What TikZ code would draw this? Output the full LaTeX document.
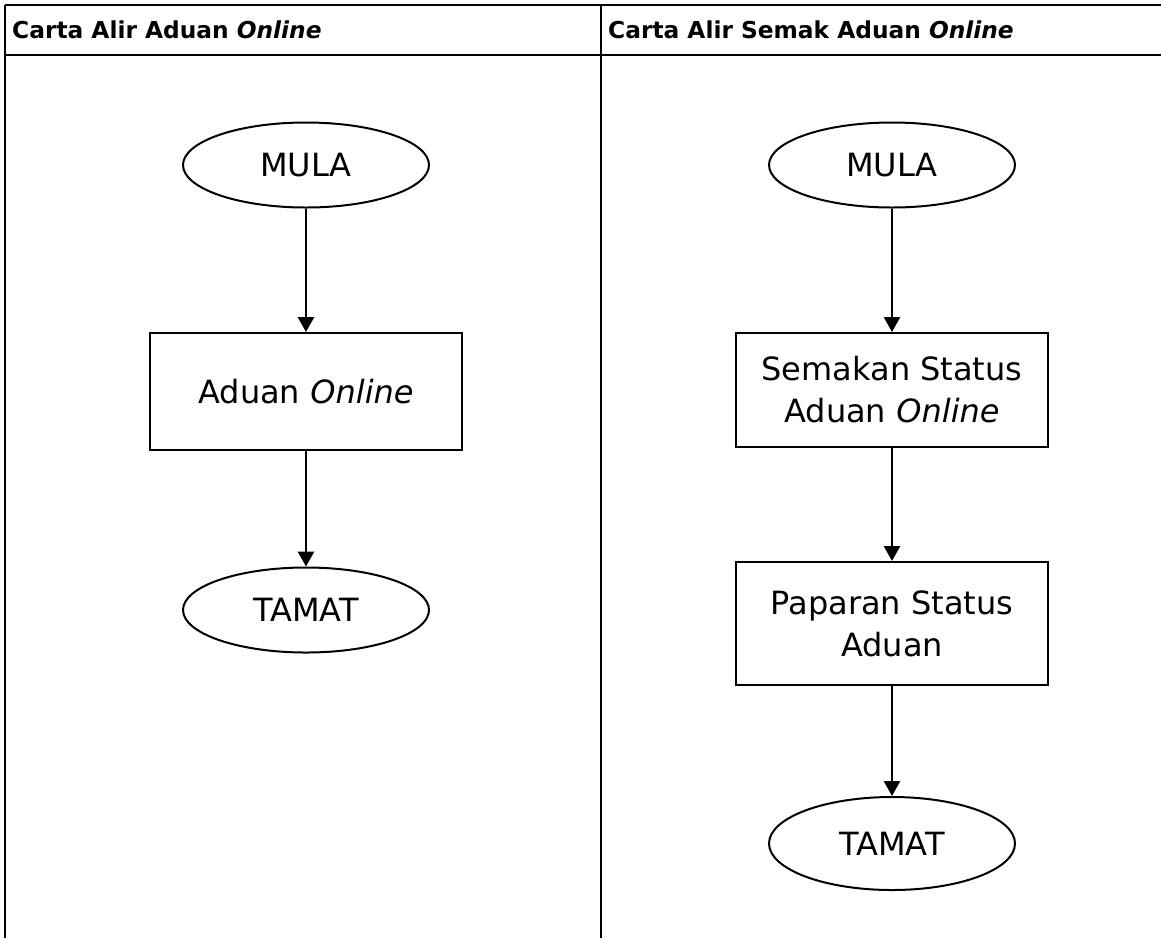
\documentclass[tikz,border=0pt]{standalone}
\usepackage{fontspec}
\setmainfont{DejaVu Sans}
\usepackage{tikz}
\usetikzlibrary{arrows.meta, shapes.geometric}

\tikzset{
  startstop/.style={ellipse, draw, line width=2pt, minimum width=246pt, minimum height=85pt, inner sep=0pt, font=\fontsize{32}{40}\selectfont},
  process/.style={rectangle, draw, line width=2pt, minimum width=312pt, inner sep=0pt, align=center, font=\fontsize{32}{42}\selectfont},
  flow/.style={-{Triangle[length=15pt,width=16pt]}, line width=2.8pt},
  grid/.style={line width=2pt},
  header/.style={anchor=west, inner sep=0pt, font=\fontsize{23.3}{26}\selectfont\bfseries}
}

\begin{document}
\begin{tikzpicture}[x=1pt, y=-1pt]
        \useasboundingbox (0,0) rectangle (1161,938);

        % tabel
        \draw[grid] (5,5) -- (1161,5);
        \draw[grid] (5,55) -- (1161,55);
        \draw[grid] (5,5) -- (5,938);
        \draw[grid] (601,5) -- (601,938);
        \node[header] (hdrA) at (12,30) {Carta Alir Aduan \textit{Online}};
        \node[header] (hdrB) at (608,30) {Carta Alir Semak Aduan \textit{Online}};

        % lajur kiri
        \def\colA{306}
        \node[startstop] (mulaA) at (\colA,165) {MULA};
        \node[process, minimum height=117pt] (aduan) at (\colA,391.5) {Aduan \textit{Online}};
        \node[startstop] (tamatA) at (\colA,610) {TAMAT};
        \draw[flow] (mulaA) -- (aduan);
        \draw[flow] (aduan) -- (tamatA);

        % lajur kanan
        \def\colB{892}
        \node[startstop] (mulaB) at (\colB,165) {MULA};
        \node[process, minimum height=114pt] (semak) at (\colB,390) {Semakan Status\\Aduan \textit{Online}};
        \node[process, minimum height=123pt] (papar) at (\colB,623.5) {Paparan Status\\Aduan};
        \node[startstop, minimum height=93pt] (tamatB) at (\colB,843.5) {TAMAT};
        \draw[flow] (mulaB) -- (semak);
        \draw[flow] (semak) -- (papar);
        \draw[flow] (papar) -- (tamatB);
    \end{tikzpicture}
\end{document}
